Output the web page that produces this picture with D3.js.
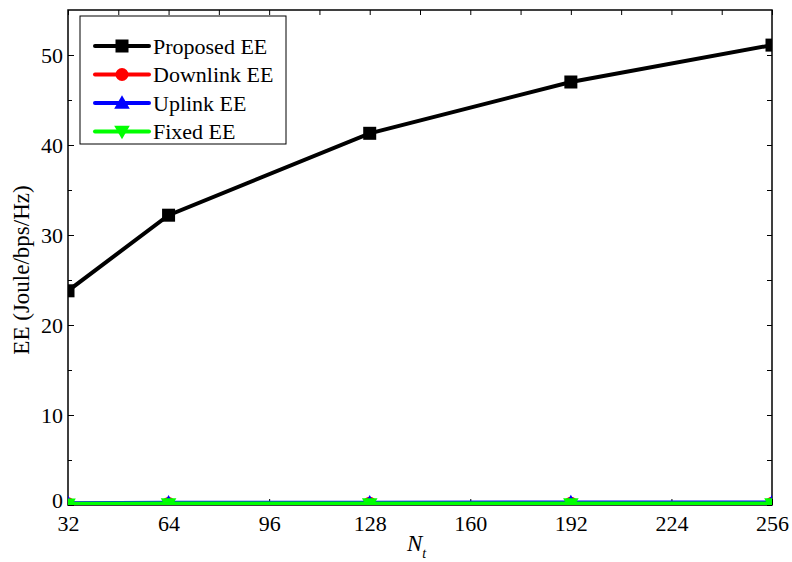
<!DOCTYPE html>
<html>
<head>
<meta charset="utf-8">
<script src="https://cdn.jsdelivr.net/npm/d3@7"></script>
<style>
  body { margin: 0; background: #fff; }
  svg text { font-family: "Liberation Serif", "Times New Roman", serif; fill: #000; }
</style>
</head>
<body>
<svg id="chart" width="792" height="562"></svg>
<script>
// x values (number of antennas)
const nt = [32, 64, 128, 192, 256];
// series values
const proposedEE = [23.8, 32.2, 41.3, 47.0, 51.1];
const downlinkEE = [0.15, 0.18, 0.2, 0.2, 0.2];
const uplinkEE = [0.2, 0.25, 0.25, 0.28, 0.28];
const fixedEE = [0.08, 0.1, 0.1, 0.1, 0.1];
// tick labels
const xTicks = [32, 64, 96, 128, 160, 192, 224, 256];
const xMinor = [48, 80, 112, 144, 176, 208, 240];
const yTicks = [0, 10, 20, 30, 40, 50];
const yMinor = [5, 15, 25, 35, 45];

const series = [
    { name: 'Proposed EE', values: proposedEE, color: '#000000', marker: 'square' },
    { name: 'Downlink EE', values: downlinkEE, color: '#ff0000', marker: 'circle' },
    { name: 'Uplink EE', values: uplinkEE, color: '#0000ff', marker: 'up' },
    { name: 'Fixed EE', values: fixedEE, color: '#00ff00', marker: 'down' }
];

const margin = { top: 10, right: 20, bottom: 57, left: 68 };
const width = 792, height = 562;
const innerW = width - margin.left - margin.right;
const innerH = height - margin.top - margin.bottom;

const svg = d3.select('#chart');
const g = svg.append('g').attr('transform', `translate(${margin.left},${margin.top})`);

const x = d3.scaleLinear().domain([32, 256]).range([0, innerW]);
const y = d3.scaleLinear().domain([0, 55]).range([innerH, 0]);

svg.append('defs').append('clipPath').attr('id', 'clip')
    .append('rect').attr('width', innerW).attr('height', innerH);

// axes: bottom/left with labels, top/right ticks only
const xAxis = d3.axisBottom(x).tickValues(xTicks).tickSize(-6).tickPadding(10).tickFormat(d3.format('d'));
const yAxis = d3.axisLeft(y).tickValues(yTicks).tickSize(-6).tickPadding(5).tickFormat(d3.format('d'));

function style(sel) {
    sel.select('.domain').remove();
    sel.selectAll('line').attr('stroke', '#000').attr('stroke-width', 1);
    sel.selectAll('text').style('font-size', '22px').style('font-family', '"Liberation Serif", serif');
}

g.append('g').attr('transform', `translate(0,${innerH})`).call(xAxis).call(style);
g.append('g').attr('transform', `translate(0,${innerH})`)
    .call(d3.axisBottom(x).tickValues(xMinor).tickSize(-4).tickFormat('')).call(style);
g.append('g').call(d3.axisTop(x).tickValues(xTicks.concat(xMinor)).tickSize(-5).tickFormat('')).call(style);
const yg = g.append('g').call(yAxis).call(style);
// lift the "0" label a little so it does not sit on the "32"
yg.selectAll('.tick text').filter(d => d === 0).attr('dy', '0.1em');
g.append('g').call(d3.axisLeft(y).tickValues(yMinor).tickSize(-4).tickFormat('')).call(style);
g.append('g').attr('transform', `translate(${innerW},0)`)
    .call(d3.axisRight(y).tickValues(yTicks.concat(yMinor)).tickSize(-5).tickFormat('')).call(style);

// frame
g.append('rect').attr('width', innerW).attr('height', innerH)
    .attr('fill', 'none').attr('stroke', '#000').attr('stroke-width', 1.5);

const line = d3.line().x((d, i) => x(nt[i])).y(d => y(d));

function drawMarker(sel, type, color, s) {
    if (type === 'square') {
        sel.append('rect').attr('x', -s / 2).attr('y', -s / 2).attr('width', s).attr('height', s).attr('fill', color);
    } else if (type === 'circle') {
        sel.append('circle').attr('r', s / 2).attr('fill', color);
    } else if (type === 'up') {
        sel.append('path').attr('d', `M0,${-s * 0.6}L${s * 0.6},${s * 0.45}L${-s * 0.6},${s * 0.45}Z`).attr('fill', color);
    } else {
        sel.append('path').attr('d', `M0,${s * 0.6}L${s * 0.6},${-s * 0.45}L${-s * 0.6},${-s * 0.45}Z`).attr('fill', color);
    }
}

const plot = g.append('g').attr('clip-path', 'url(#clip)');
series.forEach(s => {
    plot.append('path').datum(s.values)
        .attr('d', line).attr('fill', 'none')
        .attr('stroke', s.color).attr('stroke-width', s.marker === 'down' ? 5 : 4);
    s.values.forEach((v, i) => {
        const m = plot.append('g').attr('transform', `translate(${x(nt[i])},${y(v)})`);
        drawMarker(m, s.marker, s.color, 13);
    });
});

// axis titles
svg.append('text')
    .attr('transform', 'translate(21,270) rotate(-90)')
    .attr('text-anchor', 'middle').attr('dy', '0.35em')
    .style('font-size', '23px')
    .text('EE (Joule/bps/Hz)');

const xt = svg.append('text')
    .attr('x', 407).attr('y', 551)
    .style('font-size', '23px').style('font-style', 'italic');
xt.append('tspan').text('N');
xt.append('tspan').attr('dy', 7).style('font-size', '14px').text('t');

// legend
const leg = g.append('g').attr('transform', 'translate(12,6)');
leg.append('rect').attr('width', 206).attr('height', 128)
    .attr('fill', '#fff').attr('stroke', '#000').attr('stroke-width', 1);
series.forEach((s, i) => {
    const row = leg.append('g').attr('transform', `translate(0,${30 + i * 28.5})`);
    row.append('line').attr('x1', 15).attr('x2', 69).attr('stroke', s.color)
        .attr('stroke-width', 4).attr('stroke-linecap', 'round');
    const m = row.append('g').attr('transform', 'translate(42,0)');
    drawMarker(m, s.marker, s.color, 13);
    row.append('text').attr('x', 73).attr('dy', '0.35em')
        .style('font-size', '22px').text(s.name);
});
</script>
</body>
</html>
